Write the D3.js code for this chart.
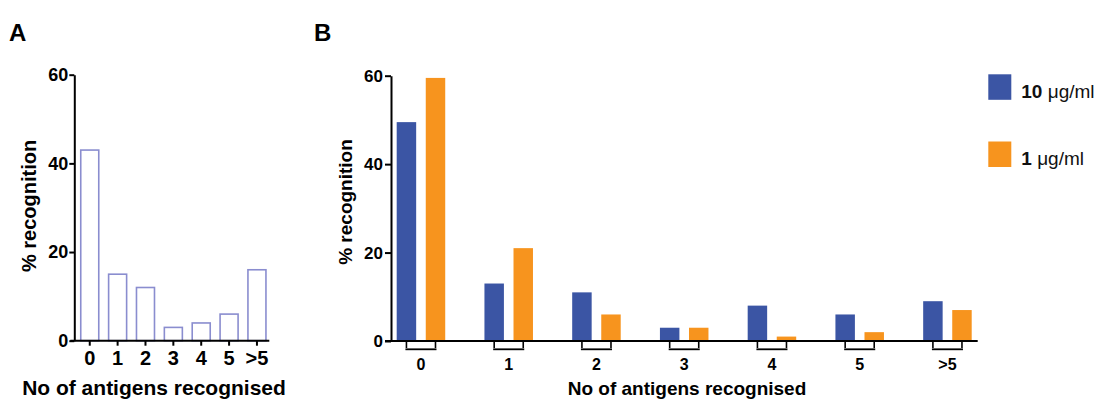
<!DOCTYPE html>
<html>
<head>
<meta charset="utf-8">
<script src="https://cdn.jsdelivr.net/npm/d3@7"></script>
<style>
  html, body { margin: 0; padding: 0; background: #fff; }
  svg { display: block; font-family: "Liberation Sans", Arial, Helvetica, sans-serif; }
  .bold { font-weight: bold; }
</style>
</head>
<body>
<svg id="chart" width="1099" height="401"></svg>
<script>
// Number of antigens recognised (categories)
const categories = ["0", "1", "2", "3", "4", "5", ">5"];

// Panel A: % recognition overall
const recognitionA = [43, 15, 12, 3, 4, 6, 16];

// Panel B: % recognition by peptide concentration
const seriesKeys = ["10", "1"];
const recognition10 = [49.5, 13, 11, 3, 8, 6, 9];
const recognition1 = [59.5, 21, 6, 3, 1, 2, 7];

const yTicks = [0, 20, 40, 60];
const xTitle = "No of antigens recognised";
const yTitle = "% recognition";

const colors = { "10": "#3b55a4", "1": "#f7941e" };
const outlineColor = "#8a8dcf";

const svg = d3.select("#chart");

// ---------- Panel A ----------
const A = { left: 74.3, right: 269.3, top: 74.7, bottom: 340.7 };
const yA = d3.scaleLinear().domain([0, 60]).range([A.bottom, A.top]);
const xA = d3.scaleBand().domain(categories).range([80, 266.7]).paddingInner(0.3).paddingOuter(0);

const gA = svg.append("g");

gA.selectAll("rect.barA")
  .data(categories.map((c, i) => ({ c, v: recognitionA[i] })))
  .join("rect")
  .attr("class", "barA")
  .attr("x", d => xA(d.c) + 0.75)
  .attr("width", xA.bandwidth() - 1.5)
  .attr("y", d => yA(d.v))
  .attr("height", d => yA(0) - yA(d.v))
  .attr("fill", "#fff")
  .attr("stroke", outlineColor)
  .attr("stroke-width", 1.6);

// y axis A
const yAxisA = gA.append("g")
  .attr("transform", `translate(${A.left},0)`)
  .call(d3.axisLeft(yA).tickValues(yTicks).tickSize(5).tickPadding(1).tickSizeOuter(0));
yAxisA.select(".domain").attr("stroke", "#000").attr("stroke-width", 2);
yAxisA.selectAll(".tick line").attr("stroke", "#000").attr("stroke-width", 2);
yAxisA.selectAll(".tick text")
  .attr("class", "bold").attr("fill", "#000")
  .style("font-size", "18px").style("font-family", "Liberation Sans, Arial, sans-serif");

// x axis A
const xAxisA = gA.append("g")
  .attr("transform", `translate(0,${A.bottom})`)
  .call(d3.axisBottom(xA).tickSize(5).tickPadding(5).tickSizeOuter(0));
xAxisA.select(".domain").attr("d", `M${A.left - 4},0H${A.right}`).attr("stroke", "#000").attr("stroke-width", 2);
xAxisA.selectAll(".tick line").attr("stroke", "#000").attr("stroke-width", 2);
xAxisA.selectAll(".tick text")
  .attr("class", "bold").attr("fill", "#000")
  .style("font-size", "20px").style("font-family", "Liberation Sans, Arial, sans-serif");

gA.append("text").attr("class", "bold")
  .attr("x", 154).attr("y", 395).attr("text-anchor", "middle")
  .style("font-size", "21px").text(xTitle);

gA.append("text").attr("class", "bold")
  .attr("transform", "translate(36,206) rotate(-90)")
  .attr("text-anchor", "middle")
  .style("font-size", "20px").text(yTitle);

svg.append("text").attr("class", "bold")
  .attr("x", 9).attr("y", 40.5)
  .style("font-size", "24px").text("A");

// ---------- Panel B ----------
const B = { left: 391, right: 977.7, top: 75.7, bottom: 341 };
const yB = d3.scaleLinear().domain([0, 60]).range([B.bottom, B.top]);
const xB = d3.scaleBand().domain(categories).range([396.7, 971.7]).paddingInner(0.447).paddingOuter(0);
const xSub = d3.scaleBand().domain(seriesKeys).range([0, xB.bandwidth()]).paddingInner(0.33).paddingOuter(0);

const gB = svg.append("g");
const rowsB = categories.map((c, i) => ({ c, values: { "10": recognition10[i], "1": recognition1[i] } }));

const groups = gB.selectAll("g.grp")
  .data(rowsB)
  .join("g")
  .attr("class", "grp")
  .attr("transform", d => `translate(${xB(d.c)},0)`);

groups.selectAll("rect")
  .data(d => seriesKeys.map(k => ({ k, v: d.values[k] })))
  .join("rect")
  .attr("x", d => xSub(d.k))
  .attr("width", xSub.bandwidth())
  .attr("y", d => yB(d.v))
  .attr("height", d => yB(0) - yB(d.v))
  .attr("fill", d => colors[d.k]);

// group ticks and bracket under each pair
groups.selectAll("line.sub")
  .data(seriesKeys)
  .join("line")
  .attr("class", "sub")
  .attr("x1", k => xSub(k) + xSub.bandwidth() / 2)
  .attr("x2", k => xSub(k) + xSub.bandwidth() / 2)
  .attr("y1", B.bottom)
  .attr("y2", B.bottom + 7)
  .attr("stroke", "#000").attr("stroke-width", 1.6);

groups.append("line")
  .attr("x1", xSub("10") + xSub.bandwidth() / 2 - 1)
  .attr("x2", xSub("1") + xSub.bandwidth() / 2 + 1)
  .attr("y1", B.bottom + 8.3)
  .attr("y2", B.bottom + 8.3)
  .attr("stroke", "#000").attr("stroke-width", 1.8);

groups.append("text").attr("class", "bold")
  .attr("x", xB.bandwidth() / 2)
  .attr("y", B.bottom + 28.5)
  .attr("text-anchor", "middle")
  .style("font-size", "16px")
  .text(d => d.c);

// y axis B
const yAxisB = gB.append("g")
  .attr("transform", `translate(${B.left},0)`)
  .call(d3.axisLeft(yB).tickValues(yTicks).tickSize(6).tickPadding(2).tickSizeOuter(0));
yAxisB.select(".domain").attr("stroke", "#000").attr("stroke-width", 2);
yAxisB.selectAll(".tick line").attr("stroke", "#000").attr("stroke-width", 2);
yAxisB.selectAll(".tick text")
  .attr("class", "bold").attr("fill", "#000")
  .style("font-size", "17px").style("font-family", "Liberation Sans, Arial, sans-serif");

// x axis line B
gB.append("line")
  .attr("x1", B.left - 6).attr("x2", B.right)
  .attr("y1", B.bottom).attr("y2", B.bottom)
  .attr("stroke", "#000").attr("stroke-width", 2);

gB.append("text").attr("class", "bold")
  .attr("x", 687).attr("y", 395).attr("text-anchor", "middle")
  .style("font-size", "19px").text(xTitle);

gB.append("text").attr("class", "bold")
  .attr("transform", "translate(352,202) rotate(-90)")
  .attr("text-anchor", "middle")
  .style("font-size", "19px").text(yTitle);

svg.append("text").attr("class", "bold")
  .attr("x", 314).attr("y", 40.5)
  .style("font-size", "24px").text("B");

// legend
const legendItems = [
  { k: "10", y: 74.3, label: "10" },
  { k: "1", y: 141.5, label: "1" }
];
const lg = svg.append("g").selectAll("g")
  .data(legendItems)
  .join("g")
  .attr("transform", d => `translate(988.3,${d.y})`);
lg.append("rect")
  .attr("width", 23).attr("height", 25.5)
  .attr("fill", d => colors[d.k]);
const lt = lg.append("text")
  .attr("x", 33).attr("y", 23.5)
  .style("font-size", "19px").attr("fill", "#111");
lt.append("tspan").attr("font-weight", "bold").text(d => d.label + " ");
lt.append("tspan").style("font-size", "19px").text("μg/ml");
</script>
</body>
</html>
